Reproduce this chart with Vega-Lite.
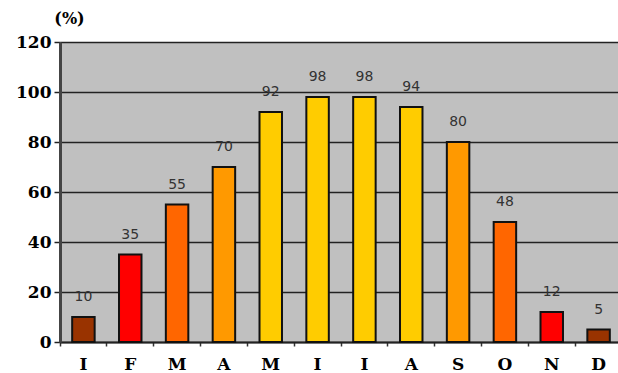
{
  "$schema": "https://vega.github.io/schema/vega-lite/v6.json",
  "autosize": "none",
  "width": 562,
  "height": 300,
  "padding": {"left": 60, "top": 42, "right": 0, "bottom": 31},
  "background": "white",
  "view": {"fill": "#C0C0C0", "stroke": null},
  "data": {"values": [
    {"m": "I1", "v": 10},
    {"m": "F", "v": 35},
    {"m": "M1", "v": 55},
    {"m": "A1", "v": 70},
    {"m": "M2", "v": 92},
    {"m": "I2", "v": 98},
    {"m": "I3", "v": 98},
    {"m": "A2", "v": 94},
    {"m": "S", "v": 80},
    {"m": "O", "v": 48},
    {"m": "N", "v": 12},
    {"m": "D", "v": 5}
  ]},
  "encoding": {
    "x": {
      "field": "m", "type": "nominal", "sort": null,
      "scale": {"paddingInner": 0, "paddingOuter": 0},
      "axis": {
        "title": null, "labelAngle": 0, "labelExpr": "slice(datum.label,0,1)",
        "labelFont": "DejaVu Serif", "labelFontWeight": "bold", "labelFontSize": 17, "labelColor": "#000",
        "labelPadding": 10, "bandPosition": 0, "tickSize": 4, "tickColor": "#333", "tickWidth": 1.5,
        "domainColor": "#222", "domainWidth": 2, "grid": false
      }
    },
    "y": {
      "field": "v", "type": "quantitative",
      "scale": {"domain": [0, 120]},
      "axis": {
        "values": [0, 20, 40, 60, 80, 100, 120],
        "title": "(%)", "titleAngle": 0, "titleAlign": "center", "titleBaseline": "middle",
        "titleX": 9, "titleY": -24, "titleFont": "DejaVu Serif", "titleFontWeight": "bold", "titleFontSize": 16, "titleColor": "#000",
        "labelFont": "DejaVu Serif", "labelFontWeight": "bold", "labelFontSize": 17, "labelColor": "#000",
        "labelPadding": 3, "tickSize": 6, "tickColor": "#222", "tickWidth": 1.5,
        "domainColor": "#444", "domainWidth": 3,
        "grid": true, "gridColor": "#222", "gridWidth": 1.3
      }
    }
  },
  "layer": [
    {
      "mark": {"type": "bar", "width": {"band": 0.48}, "stroke": "#111", "strokeWidth": 2},
      "encoding": {
        "color": {
          "field": "m", "type": "nominal", "legend": null,
          "scale": {
            "domain": ["I1", "F", "M1", "A1", "M2", "I2", "I3", "A2", "S", "O", "N", "D"],
            "range": ["#993300", "#FF0000", "#FF6600", "#FF9900", "#FFCC00", "#FFCC00", "#FFCC00", "#FFCC00", "#FF9900", "#FF6600", "#FF0000", "#993300"]
          }
        }
      }
    },
    {
      "mark": {"type": "text", "baseline": "alphabetic", "dy": -16, "font": "DejaVu Sans", "fontSize": 14, "fill": "#333"},
      "encoding": {"text": {"field": "v", "type": "quantitative"}}
    }
  ]
}
